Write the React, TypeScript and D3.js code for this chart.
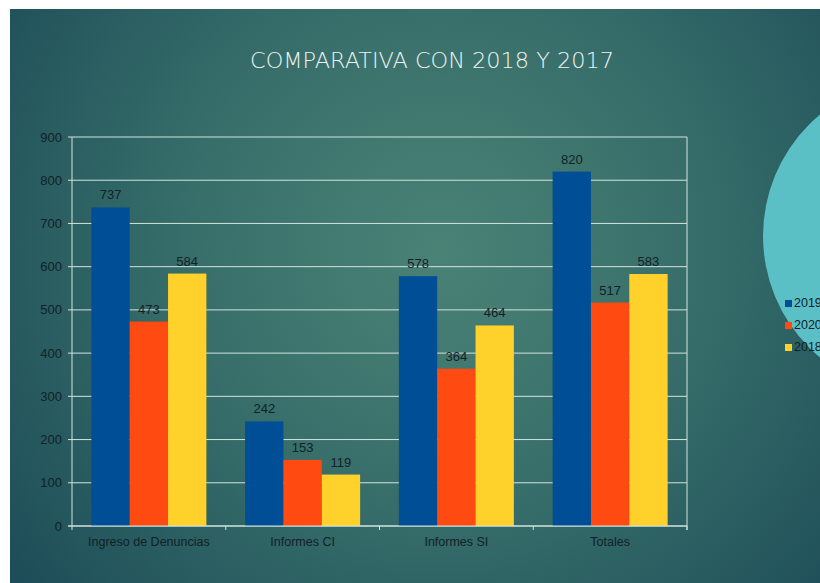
import React from "react";
import * as d3 from "d3";

const categories = ["Ingreso de Denuncias", "Informes CI", "Informes SI", "Totales"];
const seriesNames = ["2019", "2020", "2018"];
const values2019 = [737, 242, 578, 820];
const values2020 = [473, 153, 364, 517];
const values2018 = [584, 119, 464, 583];
const yTicks = [0, 100, 200, 300, 400, 500, 600, 700, 800, 900];
const colors = ["#004f96", "#ff4a12", "#ffd12a"];

const W = 820;
const H = 583;
const plot = { left: 72, right: 687, top: 137, bottom: 526 };

export default function App() {
  const x0 = d3.scaleBand<string>().domain(categories).range([plot.left, plot.right]).paddingInner(0.252).paddingOuter(0.126);
  const x1 = d3.scaleBand<string>().domain(seriesNames).range([0, x0.bandwidth()]).padding(0);
  const y = d3.scaleLinear().domain([0, 900]).range([plot.bottom, plot.top]);
  const series = [values2019, values2020, values2018];
  const step = (plot.right - plot.left) / categories.length;
  const font = "'Liberation Sans', Arial, sans-serif";
  const textColor = "#122127";

  return (
    <svg width={W} height={H} style={{ position: "absolute", left: 0, top: 0 }}>
      <defs>
        <radialGradient id="bg" gradientUnits="userSpaceOnUse" cx={440} cy={250} r={560}>
          <stop offset="0" stopColor="#4b8276" />
          <stop offset="0.45" stopColor="#376e6a" />
          <stop offset="1" stopColor="#1b4b57" />
        </radialGradient>
      </defs>
      <rect x={0} y={0} width={W} height={H} fill="#ffffff" />
      <rect x={10} y={9} width={W - 10} height={H - 9} fill="url(#bg)" />
      <text x={432} y={68} textAnchor="middle" fill="#eef3f2" fontFamily="'DejaVu Sans', sans-serif" fontSize={21} fontWeight={300} textLength={364} lengthAdjust="spacingAndGlyphs">
        COMPARATIVA CON 2018 Y 2017
      </text>

      {/* pie fragment */}
      <circle cx={922} cy={236} r={159} fill="#1d4a4e" opacity={0.35} />
      <circle cx={921} cy={236} r={158} fill="#5bbfc6" />

      {/* legend */}
      {seriesNames.map((s, i) => (
        <g key={s}>
          <rect x={785} y={300 + i * 22} width={7} height={7} fill={colors[i]} />
          <text x={794} y={307 + i * 22} fontFamily={font} fontSize={12.5} fill={textColor}>{s}</text>
        </g>
      ))}

      {/* grid */}
      {yTicks.map((t) => (
        <g key={t}>
          <line x1={plot.left - 4} x2={plot.right} y1={y(t)} y2={y(t)} stroke="#d3e3df" strokeWidth={1} />
          <text x={62} y={y(t) + 4.5} textAnchor="end" fontFamily={font} fontSize={13} fill={textColor}>{t}</text>
        </g>
      ))}
      <line x1={plot.left} x2={plot.left} y1={plot.top} y2={plot.bottom} stroke="#d3e3df" />
      <line x1={plot.right} x2={plot.right} y1={plot.top} y2={plot.bottom + 4} stroke="#d3e3df" />

      {/* bars */}
      {categories.map((c, ci) => (
        <g key={c}>
          {series.map((vals, si) => {
            const bx = (x0(c) ?? 0) + (x1(seriesNames[si]) ?? 0);
            const bw = x1.bandwidth();
            return (
              <g key={si}>
                <rect x={bx} y={y(vals[ci])} width={bw} height={plot.bottom - y(vals[ci])} fill={colors[si]} />
                <text x={bx + bw / 2} y={y(vals[ci]) - 8} textAnchor="middle" fontFamily={font} fontSize={13} fill={textColor}>{vals[ci]}</text>
              </g>
            );
          })}
          <text x={(x0(c) ?? 0) + x0.bandwidth() / 2} y={546} textAnchor="middle" fontFamily={font} fontSize={12.5} fill={textColor}>{c}</text>
        </g>
      ))}
      <line x1={plot.left - 4} x2={plot.right} y1={plot.bottom} y2={plot.bottom} stroke="#d3e3df" />
      {d3.range(categories.length + 1).map((i) => (
        <line key={i} x1={plot.left + i * step} x2={plot.left + i * step} y1={plot.bottom} y2={plot.bottom + 4} stroke="#d3e3df" />
      ))}
    </svg>
  );
}
